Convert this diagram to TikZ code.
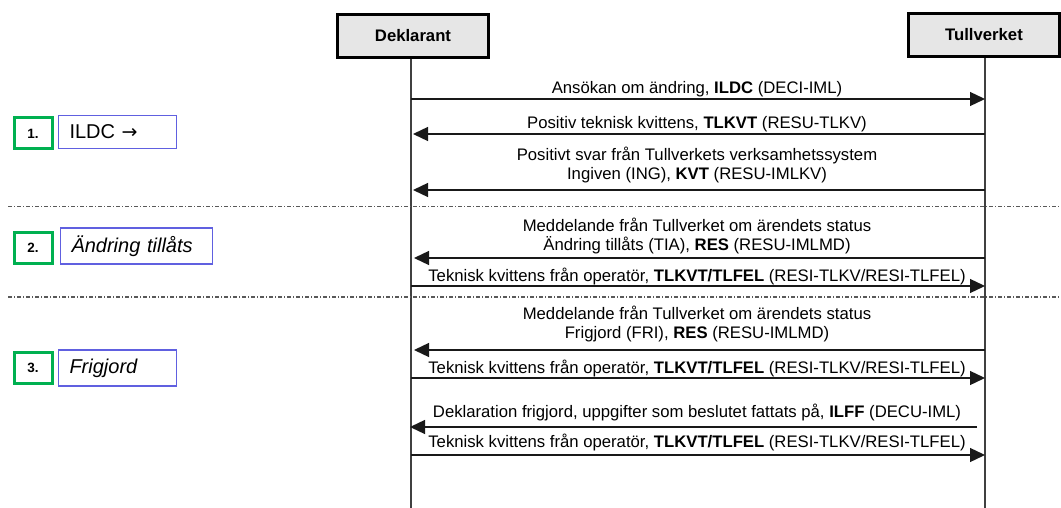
\documentclass[tikz,border=0pt]{standalone}
\usepackage{fontspec}
\setmainfont{Liberation Sans}
\newfontfamily\symfont{DejaVu Sans}
\usetikzlibrary{arrows.meta}

\definecolor{stepgreen}{RGB}{0,176,80}
\definecolor{stepblue}{RGB}{96,96,224}
\definecolor{headgray}{RGB}{230,230,230}

\tikzset{
  actor/.style={draw=black, line width=3pt, fill=headgray, minimum width=151pt, minimum height=43pt, inner sep=0pt, font=\fontsize{16.7}{19}\selectfont\bfseries},
  lifeline/.style={draw=black!75, line width=1.5pt},
  msg/.style={draw=black!90, line width=1.3pt},
  msgtext/.style={anchor=base, align=center, inner sep=0pt, font=\fontsize{16.7}{19}\selectfont},
  phase/.style={draw=black!65, line width=1.2pt, dash pattern=on 4pt off 2pt on 1pt off 2pt},
  stepnum/.style={draw=stepgreen, line width=3pt, minimum width=38pt, minimum height=31pt, inner sep=0pt, font=\fontsize{13.5}{15}\selectfont\bfseries},
  steplabel/.style={draw=stepblue, line width=1.7pt, inner xsep=11pt, inner ysep=0pt, align=left, font=\fontsize{20}{24}\selectfont}
}

\begin{document}
\begin{tikzpicture}[x=1pt, y=-1pt, >={Triangle[length=15pt,width=14pt]}]
\useasboundingbox (0,0) rectangle (1061,508);

% actors and lifelines
\node [actor] (dekl) at (413,36) {Deklarant};
\node [actor] (tull) at (984,35) {Tullverket};
\coordinate (dekl-end) at (411,508);
\coordinate (tull-end) at (985,508);
\draw [lifeline] (dekl.south -| dekl-end) -- (dekl-end);
\draw [lifeline] (tull.south -| tull-end) -- (tull-end);

% phase separators
\coordinate (ph1-l) at (8,206.5);
\coordinate (ph1-r) at (1061,206.5);
\coordinate (ph2-l) at (8,297);
\coordinate (ph2-r) at (1061,297);
\draw [phase] (ph1-l) -- (ph1-r);
\draw [phase] (ph2-l) -- (ph2-r);

% steps
\node [stepnum] (num1) at (33,133.5) {1.};
\node [steplabel, minimum height=33pt, text width=96pt] (lab1) at (117.5,132) {ILDC {\symfont\fontsize{19}{24}\selectfont →}};
\node [stepnum] (num2) at (33,248) {2.};
\node [steplabel, minimum height=36pt, text width=130pt, font=\fontsize{20}{24}\selectfont\itshape] (lab2) at (136.5,246) {Ändring tillåts};
\node [stepnum] (num3) at (33,368) {3.};
\node [steplabel, minimum height=36pt, text width=96pt, font=\fontsize{20}{24}\selectfont\itshape] (lab3) at (117.5,368) {Frigjord};

% messages
\coordinate (d1) at (411,99);    \coordinate (t1) at (985,99);
\coordinate (d2) at (413,134);   \coordinate (t2) at (985,134);
\coordinate (d3) at (413,190);   \coordinate (t3) at (985,190);
\coordinate (d4) at (414,258);   \coordinate (t4) at (985,258);
\coordinate (d5) at (411,286);   \coordinate (t5) at (985,286);
\coordinate (d6) at (414,350);   \coordinate (t6) at (985,350);
\coordinate (d7) at (411,378);   \coordinate (t7) at (985,378);
\coordinate (d8) at (410,427);   \coordinate (t8) at (977,427);
\coordinate (d9) at (411,455);   \coordinate (t9) at (985,455);

\draw [msg,->] (d1) -- (t1);
\draw [msg,->] (t2) -- (d2);
\draw [msg,->] (t3) -- (d3);
\draw [msg,->] (t4) -- (d4);
\draw [msg,->] (d5) -- (t5);
\draw [msg,->] (t6) -- (d6);
\draw [msg,->] (d7) -- (t7);
\draw [msg,->] (t8) -- (d8);
\draw [msg,->] (d9) -- (t9);

\node [msgtext] (m1) at (697,94) {Ansökan om ändring, \textbf{ILDC} (DECI-IML)};
\node [msgtext] (m2) at (697,128.5) {Positiv teknisk kvittens, \textbf{TLKVT} (RESU-TLKV)};
\node [msgtext] (m3) at (697,179) {Positivt svar från Tullverkets verksamhetssystem\\Ingiven (ING), \textbf{KVT} (RESU-IMLKV)};
\node [msgtext] (m4) at (697,250) {Meddelande från Tullverket om ärendets status\\Ändring tillåts (TIA), \textbf{RES} (RESU-IMLMD)};
\node [msgtext] (m5) at (697,281) {Teknisk kvittens från operatör, \textbf{TLKVT/TLFEL} (RESI-TLKV/RESI-TLFEL)};
\node [msgtext] (m6) at (697,338) {Meddelande från Tullverket om ärendets status\\Frigjord (FRI), \textbf{RES} (RESU-IMLMD)};
\node [msgtext] (m7) at (697,373) {Teknisk kvittens från operatör, \textbf{TLKVT/TLFEL} (RESI-TLKV/RESI-TLFEL)};
\node [msgtext] (m8) at (697,417.5) {Deklaration frigjord, uppgifter som beslutet fattats på, \textbf{ILFF} (DECU-IML)};
\node [msgtext] (m9) at (697,447.5) {Teknisk kvittens från operatör, \textbf{TLKVT/TLFEL} (RESI-TLKV/RESI-TLFEL)};
\end{tikzpicture}
\end{document}
